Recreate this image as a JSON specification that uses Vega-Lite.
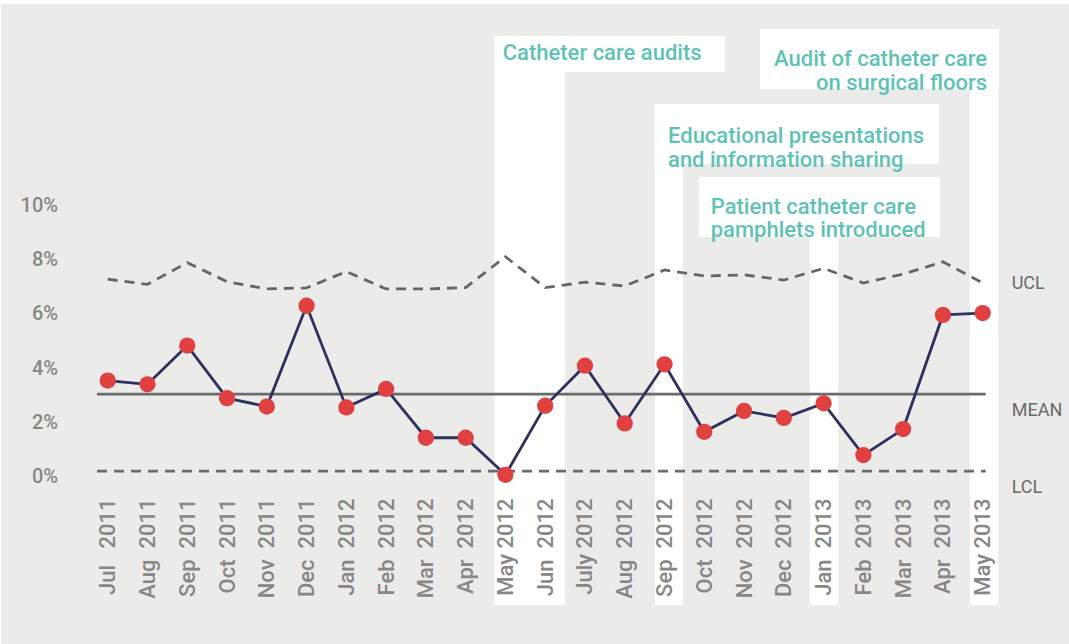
{
  "$schema": "https://vega.github.io/schema/vega-lite/v6.json",
  "width": 1069,
  "height": 644,
  "autosize": {"type": "fit", "contains": "padding"},
  "padding": {"top": 4, "left": 1, "right": 0, "bottom": 0},
  "background": "#ffffff",
  "config": {"view": {"fill": "#ebebea", "stroke": null}, "font": "Roboto"},
  "datasets": {
    "spc": [
      {"month": "Jul 2011", "rate": 3.54, "ucl": 7.28},
      {"month": "Aug 2011", "rate": 3.40, "ucl": 7.09},
      {"month": "Sep 2011", "rate": 4.83, "ucl": 7.89},
      {"month": "Oct 2011", "rate": 2.89, "ucl": 7.19},
      {"month": "Nov 2011", "rate": 2.58, "ucl": 6.92},
      {"month": "Dec 2011", "rate": 6.30, "ucl": 6.96},
      {"month": "Jan 2012", "rate": 2.55, "ucl": 7.56},
      {"month": "Feb 2012", "rate": 3.23, "ucl": 6.92},
      {"month": "Mar 2012", "rate": 1.43, "ucl": 6.92},
      {"month": "Apr 2012", "rate": 1.43, "ucl": 6.97},
      {"month": "May 2012", "rate": 0.06, "ucl": 8.11},
      {"month": "Jun 2012", "rate": 2.61, "ucl": 6.97},
      {"month": "July 2012", "rate": 4.09, "ucl": 7.17},
      {"month": "Aug 2012", "rate": 1.96, "ucl": 7.03},
      {"month": "Sep 2012", "rate": 4.14, "ucl": 7.62},
      {"month": "Oct 2012", "rate": 1.65, "ucl": 7.40},
      {"month": "Nov 2012", "rate": 2.42, "ucl": 7.44},
      {"month": "Dec 2012", "rate": 2.16, "ucl": 7.25},
      {"month": "Jan 2013", "rate": 2.70, "ucl": 7.68},
      {"month": "Feb 2013", "rate": 0.79, "ucl": 7.14},
      {"month": "Mar 2013", "rate": 1.75, "ucl": 7.47},
      {"month": "Apr 2013", "rate": 5.96, "ucl": 7.92},
      {"month": "May 2013", "rate": 6.03, "ucl": 7.14}
    ],
    "limits": [
      {"limit": "MEAN", "value": 3.04},
      {"limit": "LCL", "value": 0.2}
    ],
    "notes": [
      {"id": 1, "from": "May 2012", "to": "Jun 2012", "note": ["Catheter care audits"]},
      {"id": 2, "from": "Sep 2012", "to": "Sep 2012", "note": ["Educational presentations", "and information sharing"]},
      {"id": 3, "from": "Jan 2013", "to": "Jan 2013", "note": ["Patient catheter care", "pamphlets introduced"]},
      {"id": 4, "from": "May 2013", "to": "May 2013", "note": ["Audit of catheter care", "on surgical floors"]}
    ]
  },
  "layer": [
    {
      "data": {"name": "spc"},
      "mark": {"type": "point", "opacity": 0, "size": 1},
      "encoding": {
        "x": {
          "field": "month", "type": "ordinal", "sort": null, "title": null,
          "scale": {
            "type": "point",
            "domain": ["Jul 2011", "Aug 2011", "Sep 2011", "Oct 2011", "Nov 2011", "Dec 2011", "Jan 2012", "Feb 2012", "Mar 2012", "Apr 2012", "May 2012", "Jun 2012", "July 2012", "Aug 2012", "Sep 2012", "Oct 2012", "Nov 2012", "Dec 2012", "Jan 2013", "Feb 2013", "Mar 2013", "Apr 2013", "May 2013"],
            "range": [106.7, 981.7],
            "padding": 0
          },
          "axis": {
            "orient": "bottom", "offset": -167.5, "domain": false, "ticks": false, "grid": false,
            "labelAngle": -90, "labelAlign": "right", "labelBaseline": "middle", "labelPadding": 21.5,
            "labelFont": "Roboto", "labelFontSize": 22, "labelFontWeight": 500, "labelColor": "#878787",
            "labelOverlap": false, "zindex": 1,
            "labelExpr": "datum.label == 'Jul 2011' ? replace(datum.label, ' ', '\u00a0\u00a0\u00a0') : ((indexof(datum.label, 'May') == 0 || indexof(datum.label, 'July') == 0) ? datum.label : replace(datum.label, ' ', '\u00a0\u00a0'))"
          }
        },
        "y": {
          "field": "rate", "type": "quantitative", "title": null,
          "scale": {"domain": [-6.181, 17.435], "nice": false, "zero": false},
          "axis": {
            "orient": "left", "offset": -61, "domain": false, "ticks": false, "grid": false,
            "values": [0, 2, 4, 6, 8, 10], "labelExpr": "datum.value + '%'",
            "labelPadding": 4.5, "labelFont": "Roboto", "labelFontSize": 20, "labelFontWeight": 500,
            "labelColor": "#878787", "zindex": 1
          }
        }
      }
    },
    {
      "data": {"name": "notes"},
      "transform": [{"filter": "datum.id == 1"}],
      "layer": [
        {"mark": {"type": "rect", "fill": "#ffffff", "xOffset": -11.4, "x2Offset": 19.8},
         "encoding": {"x": {"field": "from", "type": "ordinal", "title": null}, "x2": {"field": "to"}, "y": {"datum": -4.742, "title": null}, "y2": {"datum": 14.926}}},
        {"mark": {"type": "rect", "fill": "#ffffff", "xOffset": -11.4, "x2Offset": 219.6},
         "encoding": {"x": {"field": "from", "type": "ordinal", "title": null}, "x2": {"field": "from"}, "y": {"datum": 16.255, "title": null}, "y2": {"datum": 14.926}}},
        {"mark": {"type": "text", "align": "left", "baseline": "middle", "dx": -2.7, "font": "Roboto", "fontSize": 22, "fontWeight": 500, "color": "#5ec3b4", "lineHeight": 23.5},
         "encoding": {"x": {"field": "from", "type": "ordinal", "title": null}, "y": {"datum": 15.613, "title": null}, "text": {"field": "note"}}}
      ]
    },
    {
      "data": {"name": "notes"},
      "transform": [{"filter": "datum.id == 2"}],
      "layer": [
        {"mark": {"type": "rect", "fill": "#ffffff", "xOffset": -9.5, "x2Offset": 18.5},
         "encoding": {"x": {"field": "from", "type": "ordinal", "title": null}, "x2": {"field": "to"}, "y": {"datum": -4.742, "title": null}, "y2": {"datum": 11.531}}},
        {"mark": {"type": "rect", "fill": "#ffffff", "xOffset": -10.5, "x2Offset": 274.5},
         "encoding": {"x": {"field": "from", "type": "ordinal", "title": null}, "x2": {"field": "from"}, "y": {"datum": 13.745, "title": null}, "y2": {"datum": 11.531}}},
        {"mark": {"type": "text", "align": "left", "baseline": "middle", "dx": 3.5, "font": "Roboto", "fontSize": 22, "fontWeight": 500, "color": "#5ec3b4", "lineHeight": 23.5},
         "encoding": {"x": {"field": "from", "type": "ordinal", "title": null}, "y": {"datum": 12.557, "title": null}, "text": {"field": "note"}}}
      ]
    },
    {
      "data": {"name": "notes"},
      "transform": [{"filter": "datum.id == 3"}],
      "layer": [
        {"mark": {"type": "rect", "fill": "#ffffff", "xOffset": -13.6, "x2Offset": 14.4},
         "encoding": {"x": {"field": "from", "type": "ordinal", "title": null}, "x2": {"field": "to"}, "y": {"datum": -4.742, "title": null}, "y2": {"datum": 8.838}}},
        {"mark": {"type": "rect", "fill": "#ffffff", "xOffset": -124.6, "x2Offset": 116.4},
         "encoding": {"x": {"field": "from", "type": "ordinal", "title": null}, "x2": {"field": "from"}, "y": {"datum": 11.052, "title": null}, "y2": {"datum": 8.838}}},
        {"mark": {"type": "text", "align": "left", "baseline": "middle", "dx": -112.9, "font": "Roboto", "fontSize": 22, "fontWeight": 500, "color": "#5ec3b4", "lineHeight": 23.5},
         "encoding": {"x": {"field": "from", "type": "ordinal", "title": null}, "y": {"datum": 9.948, "title": null}, "text": {"field": "note"}}}
      ]
    },
    {
      "data": {"name": "notes"},
      "transform": [{"filter": "datum.id == 4"}],
      "layer": [
        {"mark": {"type": "rect", "fill": "#ffffff", "xOffset": -12.7, "x2Offset": 15.3},
         "encoding": {"x": {"field": "from", "type": "ordinal", "title": null}, "x2": {"field": "to"}, "y": {"datum": -4.742, "title": null}, "y2": {"datum": 14.299}}},
        {"mark": {"type": "rect", "fill": "#ffffff", "xOffset": -222.7, "x2Offset": 16.3},
         "encoding": {"x": {"field": "from", "type": "ordinal", "title": null}, "x2": {"field": "from"}, "y": {"datum": 16.513, "title": null}, "y2": {"datum": 14.299}}},
        {"mark": {"type": "text", "align": "right", "baseline": "middle", "dx": 4.3, "font": "Roboto", "fontSize": 22, "fontWeight": 500, "color": "#5ec3b4", "lineHeight": 23.5},
         "encoding": {"x": {"field": "from", "type": "ordinal", "title": null}, "y": {"datum": 15.399, "title": null}, "text": {"field": "note"}}}
      ]
    },
    {
      "data": {"name": "spc"},
      "mark": {"type": "line", "stroke": "#666666", "strokeWidth": 2.8, "strokeDash": [10, 7]},
      "encoding": {
        "x": {"field": "month", "type": "ordinal", "sort": null, "title": null},
        "y": {"field": "ucl", "type": "quantitative", "title": null}
      }
    },
    {
      "data": {"name": "limits"},
      "mark": {"type": "rule", "stroke": "#6b6b6b", "strokeWidth": 2.8, "xOffset": -10.7, "x2Offset": 3},
      "encoding": {
        "x": {"datum": "Jul 2011", "type": "ordinal", "title": null},
        "x2": {"datum": "May 2013"},
        "y": {"field": "value", "type": "quantitative", "title": null},
        "strokeDash": {"field": "limit", "type": "nominal", "scale": {"domain": ["MEAN", "LCL"], "range": [[1, 0], [10, 7]]}, "legend": null}
      }
    },
    {
      "data": {"name": "spc"},
      "mark": {"type": "line", "stroke": "#2e305f", "strokeWidth": 2.8},
      "encoding": {
        "x": {"field": "month", "type": "ordinal", "sort": null, "title": null},
        "y": {"field": "rate", "type": "quantitative", "title": null}
      }
    },
    {
      "data": {"name": "spc"},
      "mark": {"type": "circle", "size": 265, "color": "#e0403f", "opacity": 1},
      "encoding": {
        "x": {"field": "month", "type": "ordinal", "sort": null, "title": null},
        "y": {"field": "rate", "type": "quantitative", "title": null}
      }
    },
    {
      "data": {"name": "spc"},
      "transform": [{"filter": "datum.month == 'May 2013'"}],
      "mark": {"type": "text", "text": "UCL", "align": "left", "baseline": "middle", "dx": 29, "dy": 1, "font": "Roboto", "fontSize": 18, "color": "#6a6a6a"},
      "encoding": {
        "x": {"field": "month", "type": "ordinal", "title": null},
        "y": {"field": "ucl", "type": "quantitative", "title": null}
      }
    },
    {
      "data": {"name": "limits"},
      "mark": {"type": "text", "align": "left", "baseline": "middle", "dx": 29, "dy": 17, "font": "Roboto", "fontSize": 18, "color": "#6a6a6a"},
      "encoding": {
        "x": {"datum": "May 2013", "type": "ordinal", "title": null},
        "y": {"field": "value", "type": "quantitative", "title": null},
        "text": {"field": "limit"}
      }
    }
  ]
}
